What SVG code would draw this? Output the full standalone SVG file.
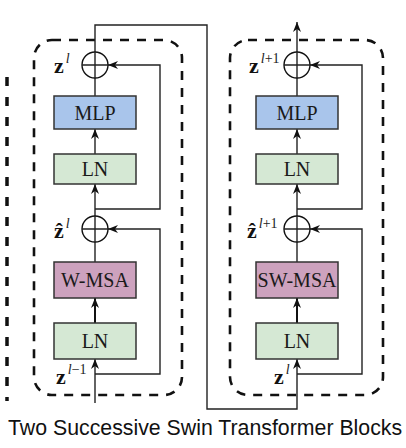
<svg xmlns="http://www.w3.org/2000/svg" width="406" height="448" viewBox="0 0 406 448">
<style>
.blk{fill:none;stroke:#111;stroke-width:2.6;stroke-dasharray:9 8}
.box{stroke:#333;stroke-width:1.5}
.mlp{fill:#a9c5eb}
.ln{fill:#d5e8d4}
.msa{fill:#cda2be}
.bt{font-family:"Liberation Serif","Times New Roman",serif;font-size:20px;fill:#1a1a1a;text-anchor:middle}
.z{font-family:"Liberation Serif","DejaVu Serif",serif;font-size:22px;font-weight:bold;fill:#111}
.sup{font-family:"Liberation Serif","DejaVu Serif",serif;font-size:14px;font-style:italic;fill:#222}
.sup2{font-family:"Liberation Serif","DejaVu Serif",serif;font-size:14px;fill:#222}
.ln2{fill:none;stroke:#222;stroke-width:1.4}
.thick{fill:none;stroke:#111;stroke-width:2}
.circ{fill:#fff;stroke:#111;stroke-width:1.4}
.cap{font-family:"Liberation Sans",Arial,sans-serif;font-size:21.3px;fill:#111}
</style>
<defs>
<marker id="ah" viewBox="0 0 10 8" refX="10" refY="4" markerWidth="10" markerHeight="8" markerUnits="userSpaceOnUse" orient="auto">
<path d="M0,0 L10,4 L0,8 L3,4 Z" fill="#111"/>
</marker>
</defs>
<rect width="406" height="448" fill="#fff"/>

<line x1="7" y1="77" x2="7" y2="401" stroke="#111" stroke-width="3.5" stroke-dasharray="9 11"/>

<g id="block1"><rect class="blk" x="34" y="40" width="148" height="355" rx="18"/></g>
<g id="block2"><rect class="blk" x="230" y="40" width="153" height="355" rx="18"/></g>

<g id="connectors">
<path class="ln2" d="M95,403 V359" marker-end="url(#ah)"/>
<path class="thick" d="M95,323 V298" marker-end="url(#ah)"/>
<path class="ln2" d="M95,262 V242"/>
<path class="ln2" d="M95,374 H160 V229 H108" marker-end="url(#ah)"/>
<path class="ln2" d="M95,216 V184" marker-end="url(#ah)"/>
<path class="ln2" d="M95,209 H160 V65 H108" marker-end="url(#ah)"/>
<path class="ln2" d="M95,154 V129" marker-end="url(#ah)"/>
<path class="ln2" d="M95,96 V78"/>
<path class="ln2" d="M95,52 V25 H207 V409 H297 V359" marker-end="url(#ah)"/>
<path class="thick" d="M297,323 V298" marker-end="url(#ah)"/>
<path class="ln2" d="M297,262 V242"/>
<path class="ln2" d="M297,374 H362 V229 H310" marker-end="url(#ah)"/>
<path class="ln2" d="M297,216 V184" marker-end="url(#ah)"/>
<path class="ln2" d="M297,209 H362 V65 H310" marker-end="url(#ah)"/>
<path class="ln2" d="M297,154 V129" marker-end="url(#ah)"/>
<path class="ln2" d="M297,96 V78"/>
<path class="ln2" d="M297,52 V22" marker-end="url(#ah)"/>
</g>

<g id="add1"><circle class="circ" cx="95" cy="65" r="13"/><path class="ln2" d="M82,65 H108 M95,52 V78"/></g>
<g id="mlp1"><rect class="box mlp" x="54" y="96" width="82" height="33"/><text class="bt" x="95" y="119.5">MLP</text></g>
<g id="ln1b"><rect class="box ln" x="54" y="154" width="82" height="30"/><text class="bt" x="95" y="176">LN</text></g>
<g id="add1a"><circle class="circ" cx="95" cy="229" r="13"/><path class="ln2" d="M82,229 H108 M95,216 V242"/></g>
<g id="wmsa"><rect class="box msa" x="54" y="262" width="82" height="36"/><text class="bt" x="95" y="287">W-MSA</text></g>
<g id="ln1a"><rect class="box ln" x="54" y="323" width="82" height="36"/><text class="bt" x="95" y="348">LN</text></g>

<g id="add2"><circle class="circ" cx="297" cy="65" r="13"/><path class="ln2" d="M284,65 H310 M297,52 V78"/></g>
<g id="mlp2"><rect class="box mlp" x="256" y="96" width="82" height="33"/><text class="bt" x="297" y="119.5">MLP</text></g>
<g id="ln2b"><rect class="box ln" x="256" y="154" width="82" height="30"/><text class="bt" x="297" y="176">LN</text></g>
<g id="add2a"><circle class="circ" cx="297" cy="229" r="13"/><path class="ln2" d="M284,229 H310 M297,216 V242"/></g>
<g id="swmsa"><rect class="box msa" x="256" y="262" width="82" height="36"/><text class="bt" x="297" y="287">SW-MSA</text></g>
<g id="ln2a"><rect class="box ln" x="256" y="323" width="82" height="36"/><text class="bt" x="297" y="348">LN</text></g>

<g id="labels">
<text x="54" y="73"><tspan class="z">z</tspan><tspan class="sup" dx="2" dy="-10">l</tspan></text>
<text x="54" y="238"><tspan class="z">ẑ</tspan><tspan class="sup" dx="2" dy="-10">l</tspan></text>
<text x="56" y="384"><tspan class="z">z</tspan><tspan class="sup" dx="2" dy="-10">l</tspan><tspan class="sup2">−1</tspan></text>
<text x="249" y="73"><tspan class="z">z</tspan><tspan class="sup" dx="2" dy="-10">l</tspan><tspan class="sup2">+1</tspan></text>
<text x="247" y="238"><tspan class="z">ẑ</tspan><tspan class="sup" dx="2" dy="-10">l</tspan><tspan class="sup2">+1</tspan></text>
<text x="274" y="384"><tspan class="z">z</tspan><tspan class="sup" dx="2" dy="-10">l</tspan></text>
</g>

<text class="cap" x="8" y="435">Two Successive Swin Transformer Blocks</text>
</svg>
